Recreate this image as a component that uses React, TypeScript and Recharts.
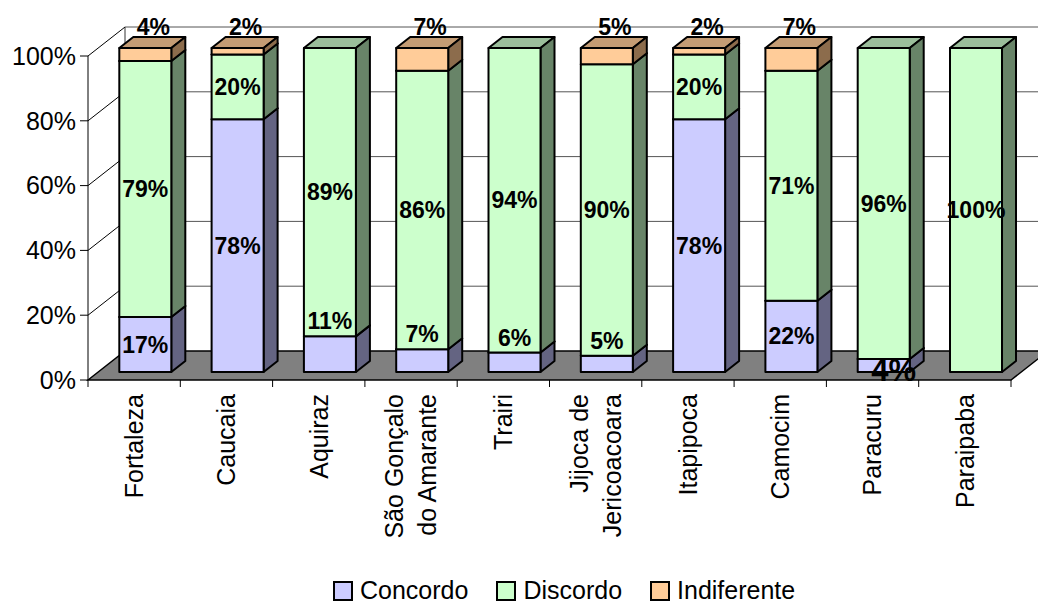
import { BarChart, Bar, XAxis, YAxis, CartesianGrid, LabelList, Legend } from "recharts";

const cities = [
  "Fortaleza",
  "Caucaia",
  "Aquiraz",
  "São Gonçalo\ndo Amarante",
  "Trairi",
  "Jijoca de\nJericoacoara",
  "Itapipoca",
  "Camocim",
  "Paracuru",
  "Paraipaba",
];
const concordo = [17, 78, 11, 7, 6, 5, 78, 22, 4, 0];
const discordo = [79, 20, 89, 86, 94, 90, 20, 71, 96, 100];
const indiferente = [4, 2, 0, 7, 0, 5, 2, 7, 0, 0];
const yTicks = [0, 20, 40, 60, 80, 100];

// small "Concordo" value that sits at the foot of the bar instead of above it
const footLabelCities = ["Paracuru"];

const data = cities.map((city, i) => ({
  city,
  concordo: concordo[i],
  discordo: discordo[i],
  indiferente: indiferente[i],
}));

const FONT = "'Liberation Sans', Arial, Helvetica, sans-serif";
const W = 1038;
const H = 603;
const Y_AXIS_W = 99;
const X_AXIS_H = 30;
const MARGIN = { top: 48, right: 16, bottom: 201, left: 0 };
const PLOT_LEFT = MARGIN.left + Y_AXIS_W;
const PLOT_RIGHT = W - MARGIN.right;
const PLOT_TOP = MARGIN.top;
const PLOT_BOTTOM = H - MARGIN.bottom - X_AXIS_H;
const PLOT_W = PLOT_RIGHT - PLOT_LEFT;

// 3d offsets relative to the plane the bar fronts sit on
const BAR_DX = 14;
const BAR_DY = -11;
const FRONT_DX = -11;
const FRONT_DY = 8;
const WALL_DX = 26;
const WALL_DY = -21;

const colors = {
  concordo: { front: "#CCCCFF", side: "#646482", top: "#9999C4" },
  discordo: { front: "#CCFFCC", side: "#688468", top: "#9BBE9B" },
  indiferente: { front: "#FFCC99", side: "#8C6C4C", top: "#C49C74" },
};

function box3d(c: { front: string; side: string; top: string }) {
  return (p: any) => {
    const { x, y, width: w, height: h } = p;
    if (!h || h <= 0.01) return <g />;
    return (
      <g stroke="#000" strokeWidth={2} strokeLinejoin="round">
        <polygon
          points={`${x},${y} ${x + BAR_DX},${y + BAR_DY} ${x + w + BAR_DX},${y + BAR_DY} ${x + w},${y}`}
          fill={c.top}
        />
        <polygon
          points={`${x + w},${y} ${x + w + BAR_DX},${y + BAR_DY} ${x + w + BAR_DX},${y + h + BAR_DY} ${x + w},${y + h}`}
          fill={c.side}
        />
        <rect x={x} y={y} width={w} height={h} fill={c.front} />
      </g>
    );
  };
}

function boxOf(p: any) {
  const vb = p.viewBox ?? p;
  const top = Math.min(vb.y, vb.y + vb.height);
  const h = Math.abs(vb.height);
  return { x: vb.x, w: vb.width, top, h, bottom: top + h };
}

function valueText(x: number, y: number, text: string, size = 23) {
  return (
    <text
      x={x}
      y={y}
      dy="0.35em"
      textAnchor="middle"
      fontFamily={FONT}
      fontSize={size}
      fontWeight="bold"
      fill="#000"
    >
      {text}
    </text>
  );
}

function ConcordoLabel(p: any) {
  const v = concordo[p.index];
  if (!(v >= 12)) return null;
  const b = boxOf(p);
  return valueText(b.x + b.w / 2, b.top + b.h / 2, `${v}%`);
}

// drawn with the middle series so small "Concordo" values stay on top of it
function DiscordoLabel(p: any) {
  const i = p.index;
  const v = discordo[i];
  const b = boxOf(p);
  const cx = b.x + b.w / 2;
  const c = concordo[i];
  let extra = null;
  if (c > 0 && c < 12) {
    if (footLabelCities.includes(cities[i])) {
      const cPx = (b.h * c) / v;
      extra = valueText(cx + 10, b.bottom + cPx - 2, `${c}%`, 31);
    } else {
      extra = valueText(cx, b.bottom - 15, `${c}%`);
    }
  }
  return (
    <g>
      {valueText(cx, b.top + b.h / 2, `${v}%`)}
      {extra}
    </g>
  );
}

function IndiferenteLabel(p: any) {
  const v = indiferente[p.index];
  if (!(v > 0)) return null;
  const b = boxOf(p);
  return valueText(b.x + b.w / 2 + 8, b.top - 21, `${v}%`);
}

// back wall lines, left wall diagonals and the floor
function WallLine(p: any) {
  const { x1, y1, x2 } = p;
  const fx = x1 + FRONT_DX;
  const fy = y1 + FRONT_DY;
  const bx = x1 + WALL_DX;
  const by = y1 + WALL_DY;
  const isFloor = Math.abs(y1 - PLOT_BOTTOM) < 0.5;
  return (
    <g key={p.key ?? `wall-${y1}`}>
      {isFloor && (
        <>
          <polygon
            points={`${fx},${fy} ${bx},${by} ${x2 + WALL_DX},${by} ${x2 + FRONT_DX},${fy}`}
            fill="#808080"
            stroke="#000"
            strokeWidth={1.5}
          />
          <line x1={fx} y1={fy} x2={fx} y2={PLOT_TOP + FRONT_DY} stroke="#000" strokeWidth={1} />
          <line x1={bx} y1={by} x2={bx} y2={PLOT_TOP + WALL_DY} stroke="#333" strokeWidth={1} />
        </>
      )}
      {!isFloor && (
        <>
          <line x1={fx} y1={fy} x2={bx} y2={by} stroke="#000" strokeWidth={1} />
          <line x1={bx} y1={by} x2={x2 + WALL_DX + 20} y2={by} stroke="#555" strokeWidth={1} />
        </>
      )}
    </g>
  );
}

function PercentTick(p: any) {
  const fy = p.y + FRONT_DY;
  const fx = PLOT_LEFT + FRONT_DX;
  return (
    <g>
      <line x1={fx - 8} y1={fy} x2={fx} y2={fy} stroke="#000" strokeWidth={1} />
      <text x={76} y={fy} dy="0.35em" textAnchor="end" fontFamily={FONT} fontSize={25} fill="#000">
        {`${p.payload.value}%`}
      </text>
    </g>
  );
}

function CityTick(p: any) {
  const { x, index, payload } = p;
  const band = PLOT_W / cities.length;
  const fx = x + FRONT_DX;
  const fy = PLOT_BOTTOM + FRONT_DY;
  const y0 = fy + 14;
  const lines = String(payload.value).split("\n");
  return (
    <g>
      <line x1={fx - band / 2} y1={fy} x2={fx - band / 2} y2={fy + 7} stroke="#000" strokeWidth={1} />
      {index === cities.length - 1 && (
        <line x1={fx + band / 2} y1={fy} x2={fx + band / 2} y2={fy + 7} stroke="#000" strokeWidth={1} />
      )}
      {lines.map((line, i) => {
        const lx = fx + (i - (lines.length - 1) / 2) * 33;
        return (
          <text
            key={i}
            x={lx}
            y={y0}
            dy="0.35em"
            transform={`rotate(-90 ${lx} ${y0})`}
            textAnchor="end"
            fontFamily={FONT}
            fontSize={25}
            fill="#000"
          >
            {line}
          </text>
        );
      })}
    </g>
  );
}

const legendItems = [
  { label: "Concordo", color: colors.concordo.front },
  { label: "Discordo", color: colors.discordo.front },
  { label: "Indiferente", color: colors.indiferente.front },
];

function LegendBox() {
  return (
    <div style={{ display: "flex", alignItems: "center", fontFamily: FONT, fontSize: 25, color: "#000" }}>
      {legendItems.map((it) => (
        <div key={it.label} style={{ display: "flex", alignItems: "center", marginRight: 28 }}>
          <span
            style={{
              display: "inline-block",
              width: 16,
              height: 16,
              border: "2px solid #000",
              background: it.color,
              marginRight: 7,
            }}
          />
          <span>{it.label}</span>
        </div>
      ))}
    </div>
  );
}

export default function App() {
  return (
    <div style={{ position: "absolute", left: 0, top: 0, width: W, height: H, background: "#fff" }}>
      <BarChart width={W} height={H} data={data} margin={MARGIN} barCategoryGap="22%">
        <CartesianGrid vertical={false} horizontal={WallLine} />
        <YAxis
          type="number"
          domain={[0, 100]}
          ticks={yTicks}
          width={Y_AXIS_W}
          axisLine={false}
          tickLine={false}
          tick={PercentTick}
          interval={0}
        />
        <XAxis
          dataKey="city"
          height={X_AXIS_H}
          axisLine={false}
          tickLine={false}
          tick={CityTick}
          interval={0}
        />
        <Bar dataKey="concordo" stackId="a" isAnimationActive={false} shape={box3d(colors.concordo)}>
          <LabelList dataKey="concordo" content={ConcordoLabel} />
        </Bar>
        <Bar dataKey="discordo" stackId="a" isAnimationActive={false} shape={box3d(colors.discordo)}>
          <LabelList dataKey="discordo" content={DiscordoLabel} />
        </Bar>
        <Bar dataKey="indiferente" stackId="a" isAnimationActive={false} shape={box3d(colors.indiferente)}>
          <LabelList dataKey="indiferente" content={IndiferenteLabel} />
        </Bar>
        <Legend
          layout="horizontal"
          verticalAlign="middle"
          align="center"
          wrapperStyle={{ position: "absolute", left: 333, top: 576, width: 620, height: 30 }}
          content={LegendBox}
        />
      </BarChart>
    </div>
  );
}
